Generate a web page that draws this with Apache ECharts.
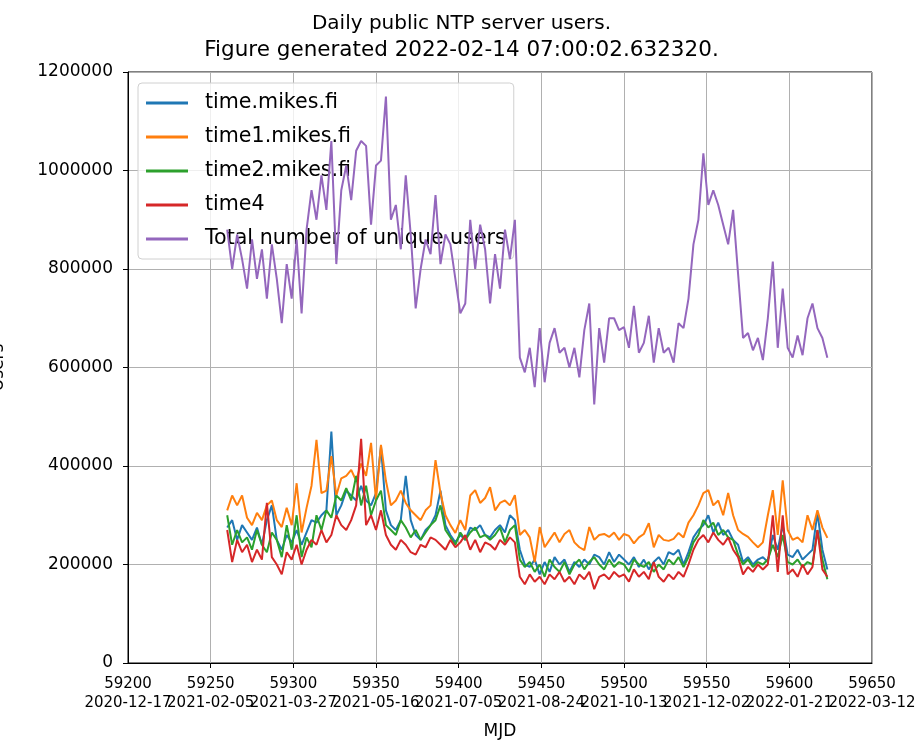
<!DOCTYPE html>
<html>
<head>
<meta charset="utf-8">
<script src="https://cdn.jsdelivr.net/npm/echarts@6/dist/echarts.min.js"></script>
<style>
html,body{margin:0;padding:0;background:#fff;}
#chart{width:923px;height:749px;}
</style>
</head>
<body>
<div id="chart"></div>
<script>
// MJD days (sampled every 3 days)
const days = [59260,59263,59266,59269,59272,59275,59278,59281,59284,59287,
59290,59293,59296,59299,59302,59305,59308,59311,59314,59317,
59320,59323,59326,59329,59332,59335,59338,59341,59344,59347,
59350,59353,59356,59359,59362,59365,59368,59371,59374,59377,
59380,59383,59386,59389,59392,59395,59398,59401,59404,59407,
59410,59413,59416,59419,59422,59425,59428,59431,59434,59437,
59440,59443,59446,59449,59452,59455,59458,59461,59464,59467,
59470,59473,59476,59479,59482,59485,59488,59491,59494,59497,
59500,59503,59506,59509,59512,59515,59518,59521,59524,59527,
59530,59533,59536,59539,59542,59545,59548,59551,59554,59557,
59560,59563,59566,59569,59572,59575,59578,59581,59584,59587,
59590,59593,59596,59599,59602,59605,59608,59611,59614,59617,
59620,59623];

// values in thousands of users
const timeMikes = [275,290,250,280,265,250,275,240,290,320,
250,230,260,245,270,240,265,290,285,300,
310,470,300,320,350,340,330,360,330,320,
345,440,310,280,270,290,380,290,260,250,
270,280,300,350,280,260,245,260,250,275,
270,280,260,255,270,280,265,300,290,230,
200,195,210,180,205,185,215,200,210,185,
205,195,210,200,220,215,200,225,205,220,
210,200,215,195,210,190,205,215,200,225,
220,230,200,225,255,270,280,300,265,285,
260,270,250,240,205,215,200,210,215,205,
260,230,280,220,215,230,210,220,230,305,
230,190];

const time1Mikes = [310,340,320,340,295,280,305,290,320,330,
290,276,315,280,365,265,315,360,453,345,
350,420,340,375,380,392,370,405,380,447,
330,443,370,320,330,350,325,310,300,290,
310,320,412,345,300,280,264,290,270,340,
351,325,335,357,310,325,330,320,341,260,
270,255,205,276,235,250,265,245,262,270,
245,235,229,276,250,260,262,256,265,250,
262,258,243,255,262,284,235,260,250,248,
252,264,255,285,300,320,345,351,320,330,
300,345,300,270,262,256,245,235,245,300,
351,260,371,270,250,255,245,300,270,310,
275,254];

const time2Mikes = [300,240,270,245,255,230,270,240,225,265,
250,215,280,230,300,215,255,235,300,270,
310,295,340,330,355,330,380,320,360,300,
330,350,280,270,260,290,275,255,270,250,
265,280,290,320,270,255,240,265,250,265,
275,255,260,250,260,275,245,270,280,210,
195,205,185,200,175,210,195,185,205,180,
200,210,190,205,215,200,190,210,195,205,
200,185,210,200,195,205,185,200,190,210,
200,215,195,215,245,260,290,275,285,260,
270,255,250,220,200,210,195,205,200,210,
240,215,260,205,200,210,195,205,200,270,
210,170];

const time4 = [270,205,250,225,240,205,230,210,325,215,
200,180,225,210,240,200,230,250,240,270,
245,260,300,280,270,290,320,455,280,300,
270,310,260,240,230,250,240,225,220,240,
235,255,250,240,230,250,235,245,260,230,
250,225,245,240,230,250,240,255,245,175,
160,180,165,175,160,180,170,185,165,175,
160,180,170,185,150,175,180,170,185,175,
180,165,190,175,185,170,205,175,165,180,
170,185,175,200,230,250,260,245,265,250,
240,255,230,215,180,195,185,200,190,200,
300,185,300,180,190,175,200,180,195,270,
190,175];

const totalUnique = [880,800,870,820,760,860,780,840,740,850,
780,690,810,740,860,710,880,960,900,990,
920,1060,810,960,1010,940,1040,1060,1050,890,
1010,1020,1150,900,930,840,990,870,720,800,
860,830,950,810,870,850,780,710,730,900,
800,890,840,730,830,760,880,820,900,620,
590,640,560,680,570,650,680,630,640,600,
640,580,676,730,525,680,610,700,700,676,
682,640,725,630,650,705,610,680,630,640,
610,690,680,740,850,900,1035,930,960,930,
890,850,920,790,660,670,635,660,615,700,
815,640,760,640,620,665,625,700,730,680,
660,620];

const seriesNames = ['time.mikes.fi','time1.mikes.fi','time2.mikes.fi','time4','Total number of unique users'];
const seriesValues = [timeMikes, time1Mikes, time2Mikes, time4, totalUnique];
const colors = ['#1f77b4','#ff7f0e','#2ca02c','#d62728','#9467bd'];

const xMin = 59200, xMax = 59650, xStep = 50;

function mjdToDate(v){
  const d = new Date((v - 40587) * 86400000);
  return d.toISOString().slice(0,10);
}

const chart = echarts.init(document.getElementById('chart'), null, {renderer:'canvas'});
const font = 'DejaVu Sans';

const labelBase = {fontFamily: font, fontSize: 15, color: '#000', lineHeight: 19, margin: 12, hideOverlap: false};

const option = {
  animation: false,
  backgroundColor: '#fff',
  color: colors,
  title: {
    text: '{a|Daily public NTP server users.}\n{b|Figure generated 2022-02-14 07:00:02.632320.}',
    left: 'center',
    top: 5,
    textStyle: {
      fontFamily: font, fontSize: 20, fontWeight: 'normal', color: '#000', lineHeight: 27,
      rich: {
        a: {fontFamily: font, fontSize: 20, color: '#000', lineHeight: 27, align: 'center'},
        b: {fontFamily: font, fontSize: 21.5, color: '#000', lineHeight: 27, align: 'center'}
      }
    }
  },
  legend: {
    orient: 'vertical',
    left: 138,
    top: 83,
    data: seriesNames,
    icon: 'rect',
    itemWidth: 42,
    itemHeight: 3,
    itemGap: 10,
    padding: [8, 8, 8, 8],
    backgroundColor: 'rgba(255,255,255,0.8)',
    borderColor: '#d0d0d0',
    borderWidth: 1,
    borderRadius: 4,
    textStyle: {fontFamily: font, fontSize: 20.6, color: '#000', padding: [0,0,0,12], lineHeight: 24}
  },
  grid: {
    left: 128, right: 51, top: 72, bottom: 86,
    containLabel: false,
    outerBoundsMode: 'none',
    show: true, borderColor: '#000', borderWidth: 1
  },
  xAxis: [{
    type: 'value',
    min: xMin, max: xMax, interval: xStep,
    name: 'MJD',
    nameLocation: 'middle',
    nameGap: 60,
    nameTextStyle: {fontFamily: font, fontSize: 17, color: '#000'},
    axisLine: {show: true, onZero: false, lineStyle: {color: '#000', width: 1}},
    axisTick: {show: true, length: 5, lineStyle: {color: '#000'}},
    splitLine: {show: true, lineStyle: {color: '#b0b0b0', width: 1}},
    axisLabel: Object.assign({}, labelBase, {
      showMinLabel: false, showMaxLabel: false,
      formatter: v => v + '\n' + mjdToDate(v)
    })
  }, {
    type: 'value',
    position: 'bottom',
    min: xMin, max: xMax, interval: xStep,
    axisLine: {show: false, onZero: false},
    axisTick: {show: false},
    splitLine: {show: false},
    axisLabel: Object.assign({}, labelBase, {
      showMinLabel: true, showMaxLabel: true,
      formatter: v => (v === xMin || v === xMax) ? (v + '\n' + mjdToDate(v)) : ''
    })
  }],
  yAxis: {
    type: 'value',
    min: 0, max: 1200000, interval: 200000,
    name: 'Users',
    nameLocation: 'middle',
    nameGap: 121,
    nameTextStyle: {fontFamily: font, fontSize: 17, color: '#000'},
    axisLine: {show: true, lineStyle: {color: '#000', width: 1}},
    axisTick: {show: true, length: 5, lineStyle: {color: '#000'}},
    splitLine: {show: true, lineStyle: {color: '#b0b0b0', width: 1}},
    axisLabel: {fontFamily: font, fontSize: 17, color: '#000', margin: 15,
      showMinLabel: true, showMaxLabel: true,
      formatter: v => String(v)}
  },
  series: seriesNames.map((name, k) => ({
    name: name,
    type: 'line',
    xAxisIndex: 0,
    showSymbol: false,
    symbol: 'none',
    lineStyle: {width: 2, color: colors[k]},
    itemStyle: {color: colors[k]},
    data: days.map((d, i) => [d, seriesValues[k][i] * 1000]),
    z: 2 + k
  }))
};
chart.setOption(option);
</script>
</body>
</html>
